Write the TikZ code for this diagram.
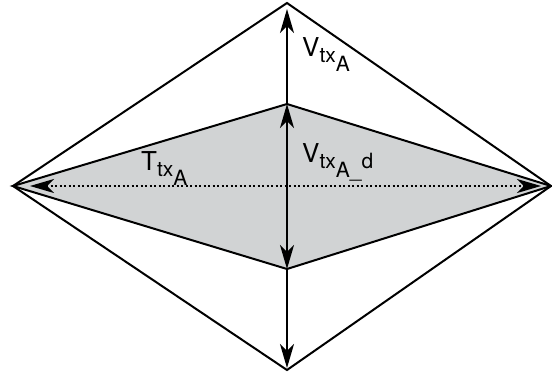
\documentclass[tikz,border=0pt]{standalone}
\usepackage{fontspec}
\setmainfont{TeX Gyre Heros}
\usepackage{xcolor}
\usepackage{tikz}
\usetikzlibrary{arrows.meta}
\definecolor{fillgray}{RGB}{209,211,212}
\newcommand{\subfont}{\fontsize{21}{21}\selectfont}
\newcommand{\lblsub}[3]{#1\raisebox{-6pt}{\subfont tx\raisebox{-9pt}{#2}#3}}
\tikzset{
    tip/.tip = {Stealth[length=24pt, width=14pt, inset=7pt]},
    edge/.style = {line width=2pt, line join=miter},
    vline/.style = {line width=2pt, -tip},
    vboth/.style = {line width=2pt, tip-tip},
    dline/.style = {line width=2pt, dash pattern=on 2pt off 2.5pt, tip-tip},
    lbl/.style = {anchor=base west, inner sep=0pt, font=\fontsize{26}{28}\selectfont}
}
\begin{document}
\begin{tikzpicture}[x=1pt, y=-1pt]
    \useasboundingbox (0,0) rectangle (552,375);
    % corners
    \coordinate (L) at (13,186);
    \coordinate (R) at (551,186);
    \coordinate (oT) at (287,3);
    \coordinate (oB) at (287,370);
    \coordinate (iT) at (287,104);
    \coordinate (iB) at (287,269);
    % inner shape
    \fill [fillgray] (L) -- (iT) -- (R) -- (iB) -- cycle;
    \draw [edge] (L) -- (iT) -- (R) -- (iB) -- cycle;
    % outer shape
    \draw [edge] (L) -- (oT) -- (R) -- (oB) -- cycle;
    % arrows
    \draw [vline, shorten >=6pt] (iT) -- (oT);
    \draw [vline, shorten >=2pt] (iB) -- (oB);
    \draw [vboth] (iT) -- (iB);
    \draw [dline, shorten <=17pt, shorten >=10pt] (L) -- (R);
    % labels
    \node [lbl] (vtxa) at (302,56) {\lblsub{V}{A}{}};
    \node [lbl] (vtxad) at (302,162) {\lblsub{V}{A\_}{d}};
    \node [lbl] (ttxa) at (141,170) {\lblsub{T}{A}{}};
\end{tikzpicture}
\end{document}
